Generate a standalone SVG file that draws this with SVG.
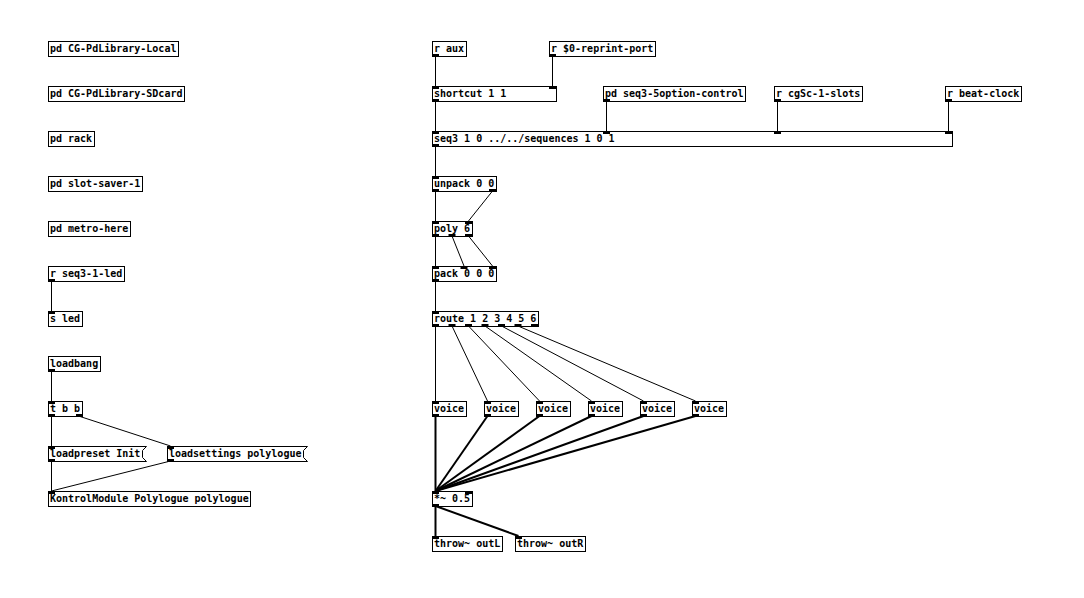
<svg xmlns="http://www.w3.org/2000/svg" width="1084" height="598" viewBox="0 0 1084 598">
<style>
.b{fill:#fff;stroke:#000;stroke-width:1}
.t{font-family:"DejaVu Sans Mono","Liberation Mono",monospace;font-weight:bold;font-size:10px;fill:#000}
.io{fill:#000}
.c{stroke:#000;stroke-width:1;fill:none}
.s{stroke:#000;stroke-width:2;fill:none}
</style>
<rect x="0" y="0" width="1084" height="598" fill="#fff"/>
<g id="connectors">
<path class="c" d="M51.5 281V311"/>
<path class="c" d="M51.5 371V401"/>
<path class="c" d="M51.5 416V446"/>
<path class="c" d="M78.5 416L170.5 446"/>
<path class="c" d="M51.5 461V491"/>
<path class="c" d="M170.5 461L51.5 491"/>
<path class="c" d="M435.5 56V86"/>
<path class="c" d="M552.5 56V86"/>
<path class="c" d="M435.5 101V131"/>
<path class="c" d="M606.5 101V131"/>
<path class="c" d="M777.5 101V131"/>
<path class="c" d="M948.5 101V131"/>
<path class="c" d="M435.5 146V176"/>
<path class="c" d="M435.5 191V221"/>
<path class="c" d="M492.5 191L468.5 221"/>
<path class="c" d="M435.5 236V266"/>
<path class="c" d="M452 236L464 266"/>
<path class="c" d="M468.5 236L492.5 266"/>
<path class="c" d="M435.5 281V311"/>
<path class="c" d="M435.5 326V401"/>
<path class="c" d="M452 326L487.5 401"/>
<path class="c" d="M468.5 326L539.5 401"/>
<path class="c" d="M485 326L591.5 401"/>
<path class="c" d="M501.5 326L643.5 401"/>
<path class="c" d="M518 326L695.5 401"/>
<path class="s" d="M435.5 416V491"/>
<path class="s" d="M487.5 416L435.5 491"/>
<path class="s" d="M539.5 416L435.5 491"/>
<path class="s" d="M591.5 416L435.5 491"/>
<path class="s" d="M643.5 416L435.5 491"/>
<path class="s" d="M695.5 416L435.5 491"/>
<path class="s" d="M435.5 506V536"/>
<path class="s" d="M435.5 506L518.5 536"/>
</g>
<g id="n_local"><rect class="b" x="48.5" y="41.5" width="130" height="15"/><text class="t" x="50" y="52">pd CG-PdLibrary-Local</text></g>
<g id="n_sdcard"><rect class="b" x="48.5" y="86.5" width="136" height="15"/><text class="t" x="50" y="97">pd CG-PdLibrary-SDcard</text></g>
<g id="n_rack"><rect class="b" x="48.5" y="131.5" width="46" height="15"/><text class="t" x="50" y="142">pd rack</text></g>
<g id="n_slotsaver"><rect class="b" x="48.5" y="176.5" width="94" height="15"/><text class="t" x="50" y="187">pd slot-saver-1</text></g>
<g id="n_metro"><rect class="b" x="48.5" y="221.5" width="82" height="15"/><text class="t" x="50" y="232">pd metro-here</text></g>
<g id="n_rled"><rect class="b" x="48.5" y="266.5" width="76" height="15"/><text class="t" x="50" y="277">r seq3-1-led</text><rect class="io" x="48" y="279" width="7" height="3"/></g>
<g id="n_sled"><rect class="b" x="48.5" y="311.5" width="34" height="15"/><text class="t" x="50" y="322">s led</text><rect class="io" x="48" y="311" width="7" height="3"/></g>
<g id="n_loadbang"><rect class="b" x="48.5" y="356.5" width="52" height="15"/><text class="t" x="50" y="367">loadbang</text><rect class="io" x="48" y="369" width="7" height="3"/></g>
<g id="n_tbb"><rect class="b" x="48.5" y="401.5" width="34" height="15"/><text class="t" x="50" y="412">t b b</text><rect class="io" x="48" y="401" width="7" height="3"/><rect class="io" x="48" y="414" width="7" height="3"/><rect class="io" x="76" y="414" width="7" height="3"/></g>
<g id="n_loadpreset"><path class="b" d="M48.5 446.5H146.5L142.5 450.5V457.5L146.5 461.5H48.5Z"/><text class="t" x="50" y="457">loadpreset Init</text><rect class="io" x="48" y="446" width="7" height="3"/><rect class="io" x="48" y="459" width="7" height="3"/></g>
<g id="n_loadsettings"><path class="b" d="M167.5 446.5H307.5L303.5 450.5V457.5L307.5 461.5H167.5Z"/><text class="t" x="169" y="457">loadsettings polylogue</text><rect class="io" x="167" y="446" width="7" height="3"/><rect class="io" x="167" y="459" width="7" height="3"/></g>
<g id="n_kontrol"><rect class="b" x="48.5" y="491.5" width="202" height="15"/><text class="t" x="50" y="502">KontrolModule Polylogue polylogue</text><rect class="io" x="48" y="491" width="7" height="3"/></g>
<g id="n_raux"><rect class="b" x="432.5" y="41.5" width="34" height="15"/><text class="t" x="434" y="52">r aux</text><rect class="io" x="432" y="54" width="7" height="3"/></g>
<g id="n_rreprint"><rect class="b" x="549.5" y="41.5" width="106" height="15"/><text class="t" x="551" y="52">r $0-reprint-port</text><rect class="io" x="549" y="54" width="7" height="3"/></g>
<g id="n_shortcut"><rect class="b" x="432.5" y="86.5" width="124" height="15"/><text class="t" x="434" y="97">shortcut 1 1</text><rect class="io" x="432" y="86" width="7" height="3"/><rect class="io" x="549" y="86" width="7" height="3"/><rect class="io" x="432" y="99" width="7" height="3"/></g>
<g id="n_option"><rect class="b" x="603.5" y="86.5" width="142" height="15"/><text class="t" x="605" y="97">pd seq3-5option-control</text><rect class="io" x="603" y="99" width="7" height="3"/></g>
<g id="n_slots"><rect class="b" x="774.5" y="86.5" width="88" height="15"/><text class="t" x="776" y="97">r cgSc-1-slots</text><rect class="io" x="774" y="99" width="7" height="3"/></g>
<g id="n_beat"><rect class="b" x="945.5" y="86.5" width="76" height="15"/><text class="t" x="947" y="97">r beat-clock</text><rect class="io" x="945" y="99" width="7" height="3"/></g>
<g id="n_seq3"><rect class="b" x="432.5" y="131.5" width="520" height="15"/><text class="t" x="434" y="142">seq3 1 0 ../../sequences 1 0 1</text><rect class="io" x="432" y="131" width="7" height="3"/><rect class="io" x="603" y="131" width="7" height="3"/><rect class="io" x="774" y="131" width="7" height="3"/><rect class="io" x="945" y="131" width="7" height="3"/><rect class="io" x="432" y="144" width="7" height="3"/></g>
<g id="n_unpack"><rect class="b" x="432.5" y="176.5" width="64" height="15"/><text class="t" x="434" y="187">unpack 0 0</text><rect class="io" x="432" y="176" width="7" height="3"/><rect class="io" x="432" y="189" width="7" height="3"/><rect class="io" x="489" y="189" width="7" height="3"/></g>
<g id="n_poly"><rect class="b" x="432.5" y="221.5" width="40" height="15"/><text class="t" x="434" y="232">poly 6</text><rect class="io" x="432" y="221" width="7" height="3"/><rect class="io" x="465" y="221" width="7" height="3"/><rect class="io" x="432" y="234" width="7" height="3"/><rect class="io" x="448.5" y="234" width="7" height="3"/><rect class="io" x="465" y="234" width="7" height="3"/></g>
<g id="n_pack"><rect class="b" x="432.5" y="266.5" width="64" height="15"/><text class="t" x="434" y="277">pack 0 0 0</text><rect class="io" x="432" y="266" width="7" height="3"/><rect class="io" x="460.5" y="266" width="7" height="3"/><rect class="io" x="489" y="266" width="7" height="3"/><rect class="io" x="432" y="279" width="7" height="3"/></g>
<g id="n_route"><rect class="b" x="432.5" y="311.5" width="106" height="15"/><text class="t" x="434" y="322">route 1 2 3 4 5 6</text><rect class="io" x="432" y="311" width="7" height="3"/><rect class="io" x="432" y="324" width="7" height="3"/><rect class="io" x="448.5" y="324" width="7" height="3"/><rect class="io" x="465" y="324" width="7" height="3"/><rect class="io" x="481.5" y="324" width="7" height="3"/><rect class="io" x="498" y="324" width="7" height="3"/><rect class="io" x="514.5" y="324" width="7" height="3"/><rect class="io" x="531" y="324" width="7" height="3"/></g>
<g id="n_voice1"><rect class="b" x="432.5" y="401.5" width="34" height="15"/><text class="t" x="434" y="412">voice</text><rect class="io" x="432" y="401" width="7" height="3"/><rect class="io" x="432" y="414" width="7" height="3"/></g>
<g id="n_voice2"><rect class="b" x="484.5" y="401.5" width="34" height="15"/><text class="t" x="486" y="412">voice</text><rect class="io" x="484" y="401" width="7" height="3"/><rect class="io" x="484" y="414" width="7" height="3"/></g>
<g id="n_voice3"><rect class="b" x="536.5" y="401.5" width="34" height="15"/><text class="t" x="538" y="412">voice</text><rect class="io" x="536" y="401" width="7" height="3"/><rect class="io" x="536" y="414" width="7" height="3"/></g>
<g id="n_voice4"><rect class="b" x="588.5" y="401.5" width="34" height="15"/><text class="t" x="590" y="412">voice</text><rect class="io" x="588" y="401" width="7" height="3"/><rect class="io" x="588" y="414" width="7" height="3"/></g>
<g id="n_voice5"><rect class="b" x="640.5" y="401.5" width="34" height="15"/><text class="t" x="642" y="412">voice</text><rect class="io" x="640" y="401" width="7" height="3"/><rect class="io" x="640" y="414" width="7" height="3"/></g>
<g id="n_voice6"><rect class="b" x="692.5" y="401.5" width="34" height="15"/><text class="t" x="694" y="412">voice</text><rect class="io" x="692" y="401" width="7" height="3"/><rect class="io" x="692" y="414" width="7" height="3"/></g>
<g id="n_mul"><rect class="b" x="432.5" y="491.5" width="40" height="15"/><text class="t" x="434" y="502">*~ 0.5</text><rect class="io" x="432" y="491" width="7" height="3"/><rect class="io" x="465" y="491" width="7" height="3"/><rect class="io" x="432" y="504" width="7" height="3"/></g>
<g id="n_throwL"><rect class="b" x="432.5" y="536.5" width="70" height="15"/><text class="t" x="434" y="547">throw~ outL</text><rect class="io" x="432" y="536" width="7" height="3"/></g>
<g id="n_throwR"><rect class="b" x="515.5" y="536.5" width="70" height="15"/><text class="t" x="517" y="547">throw~ outR</text><rect class="io" x="515" y="536" width="7" height="3"/></g>
</svg>
